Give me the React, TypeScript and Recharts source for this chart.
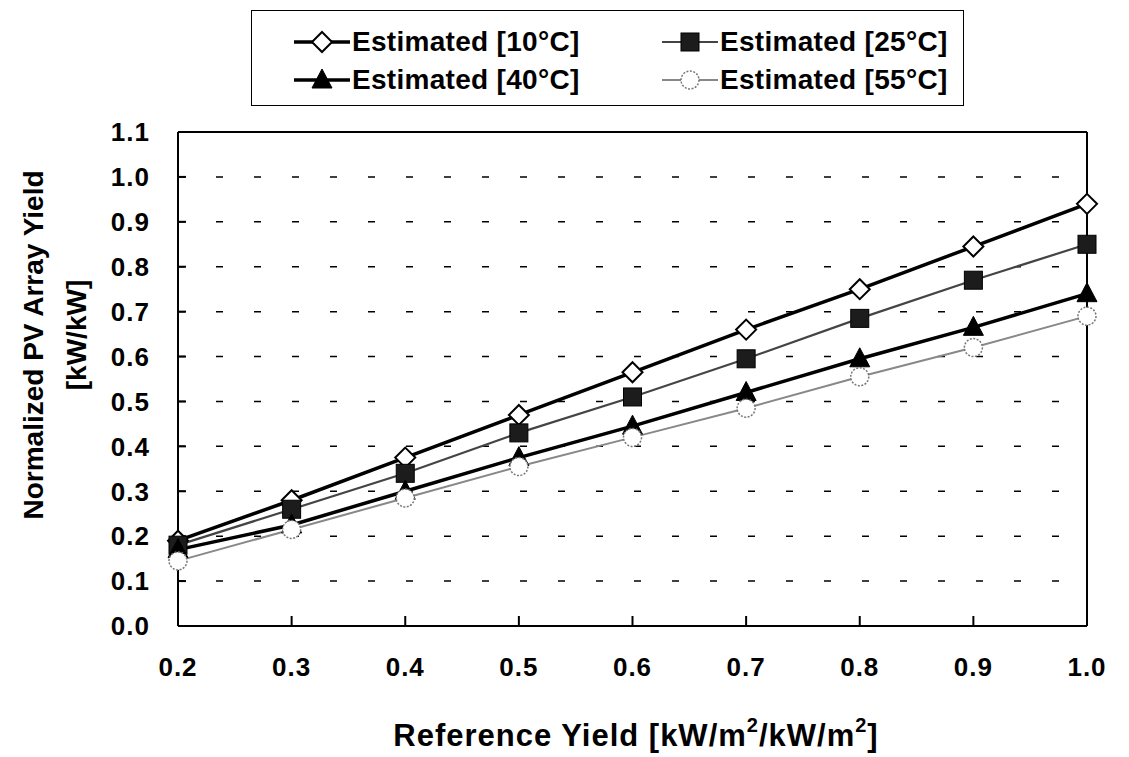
import React from 'react';
import { LineChart, Line, XAxis, YAxis, CartesianGrid, Legend, ReferenceLine } from 'recharts';

const refYield = [0.2, 0.3, 0.4, 0.5, 0.6, 0.7, 0.8, 0.9, 1.0];
const est10 = [0.19, 0.28, 0.375, 0.47, 0.565, 0.66, 0.75, 0.845, 0.94];
const est25 = [0.18, 0.26, 0.34, 0.43, 0.51, 0.595, 0.685, 0.77, 0.85];
const est40 = [0.17, 0.225, 0.3, 0.375, 0.445, 0.52, 0.595, 0.665, 0.74];
const est55 = [0.145, 0.215, 0.285, 0.355, 0.42, 0.485, 0.555, 0.62, 0.69];
const xTicks = [0.2, 0.3, 0.4, 0.5, 0.6, 0.7, 0.8, 0.9, 1.0];
const yTicks = [0, 0.1, 0.2, 0.3, 0.4, 0.5, 0.6, 0.7, 0.8, 0.9, 1.0, 1.1];

const data = refYield.map((x, i) => ({
  x,
  t10: est10[i],
  t25: est25[i],
  t40: est40[i],
  t55: est55[i],
}));

const FONT = '"Liberation Sans", Arial, sans-serif';

type Shape = 'diamond' | 'square' | 'triangle' | 'circle';

function Marker({ shape, cx, cy }: { shape: Shape; cx: number; cy: number }) {
  if (shape === 'diamond') {
    const r = 10;
    return (
      <polygon
        points={`${cx},${cy - r} ${cx + r},${cy} ${cx},${cy + r} ${cx - r},${cy}`}
        fill="#fff"
        stroke="#000"
        strokeWidth={2}
      />
    );
  }
  if (shape === 'square') {
    return <rect x={cx - 9} y={cy - 9} width={18} height={18} fill="#1c1c1c" stroke="#000" strokeWidth={1} />;
  }
  if (shape === 'triangle') {
    return (
      <polygon
        points={`${cx},${cy - 11} ${cx + 10},${cy + 8} ${cx - 10},${cy + 8}`}
        fill="#000"
        stroke="#000"
        strokeWidth={1}
      />
    );
  }
  return <circle cx={cx} cy={cy} r={9} fill="#fff" stroke="#777" strokeWidth={1.5} strokeDasharray="2 1.5" />;
}

const seriesDefs = [
  { key: 't10', name: 'Estimated [10°C]', shape: 'diamond' as Shape, color: '#000', width: 3.5 },
  { key: 't25', name: 'Estimated [25°C]', shape: 'square' as Shape, color: '#444', width: 2.2 },
  { key: 't40', name: 'Estimated [40°C]', shape: 'triangle' as Shape, color: '#000', width: 3.5 },
  { key: 't55', name: 'Estimated [55°C]', shape: 'circle' as Shape, color: '#888', width: 2 },
];

const LegendBox = () => (
  <div
    style={{
      width: 713,
      height: 96,
      border: '1.5px solid #000',
      boxSizing: 'border-box',
      background: '#fff',
      display: 'grid',
      gridTemplateColumns: '368px 345px',
      gridTemplateRows: '38px 38px',
      padding: '12px 0 0 40px',
      fontFamily: FONT,
      fontWeight: 'bold',
      fontSize: 28,
      color: '#000',
    }}
  >
    {seriesDefs.map((s) => (
      <div key={s.key} style={{ display: 'flex', alignItems: 'center' }}>
        <svg width={60} height={30} style={{ marginRight: 0 }}>
          <line x1={2} y1={15} x2={58} y2={15} stroke={s.color} strokeWidth={s.width} />
          <Marker shape={s.shape} cx={30} cy={15} />
        </svg>
        <span style={{ letterSpacing: 0.3, whiteSpace: 'nowrap' }}>{s.name}</span>
      </div>
    ))}
  </div>
);

const YTitle = () => (
  <text
    transform="translate(0, 345) rotate(-90)"
    textAnchor="middle"
    fontFamily={FONT}
    fontWeight="bold"
    fontSize={28}
    fill="#000"
  >
    <tspan x={0} y={43}>Normalized PV Array Yield</tspan>
    <tspan x={10} y={86}>[kW/kW]</tspan>
  </text>
);

const XTitle = () => (
  <text
    x={636}
    y={746}
    textAnchor="middle"
    fontFamily={FONT}
    fontWeight="bold"
    fontSize={31}
    letterSpacing={1}
    fill="#000"
  >
    Reference Yield [kW/m
    <tspan dy={-14} fontSize={20}>2</tspan>
    <tspan dy={14}>/kW/m</tspan>
    <tspan dy={-14} fontSize={20}>2</tspan>
    <tspan dy={14}>]</tspan>
  </text>
);

export default function App() {
  return (
    <div style={{ position: 'absolute', left: 0, top: 0, width: 1129, height: 757, background: '#fff' }}>
      <LineChart
        width={1129}
        height={757}
        data={data}
        margin={{ top: 132, right: 42, bottom: 5, left: 78 }}
      >
        <CartesianGrid horizontal vertical={false} stroke="#000" strokeWidth={1.5} strokeDasharray="7 31" />
        <XAxis
          dataKey="x"
          type="number"
          domain={[0.2, 1.0]}
          ticks={xTicks}
          tickFormatter={(v: number) => v.toFixed(1)}
          height={126}
          axisLine={{ stroke: '#000', strokeWidth: 2 }}
          tickLine={{ stroke: '#000', strokeWidth: 2 }}
          tickSize={-10}
          tickMargin={42}
          tick={{ fill: '#000', fontFamily: FONT, fontWeight: 'bold', fontSize: 26, letterSpacing: 1 }}
          label={<XTitle />}
        />
        <YAxis
          type="number"
          domain={[0, 1.1]}
          ticks={yTicks}
          tickFormatter={(v: number) => v.toFixed(1)}
          width={100}
          axisLine={{ stroke: '#000', strokeWidth: 2 }}
          tickLine={{ stroke: '#000', strokeWidth: 2 }}
          tickSize={-8}
          tickMargin={36}
          tick={{ fill: '#000', fontFamily: FONT, fontWeight: 'bold', fontSize: 26, letterSpacing: 1 }}
          label={<YTitle />}
        />
        <ReferenceLine y={1.1} stroke="#000" strokeWidth={2} />
        <ReferenceLine x={1.0} stroke="#000" strokeWidth={2} />
        <Legend
          verticalAlign="middle"
          align="center"
          layout="horizontal"
          wrapperStyle={{ top: 10, left: 251, width: 713 }}
          content={() => <LegendBox />}
        />
        {seriesDefs.map((s) => (
          <Line
            key={s.key}
            dataKey={s.key}
            name={s.name}
            stroke={s.color}
            strokeWidth={s.width}
            isAnimationActive={false}
            dot={(p: any) => <Marker key={`${s.key}-${p.index}`} shape={s.shape} cx={p.cx} cy={p.cy} />}
            activeDot={false}
          />
        ))}
      </LineChart>
    </div>
  );
}
